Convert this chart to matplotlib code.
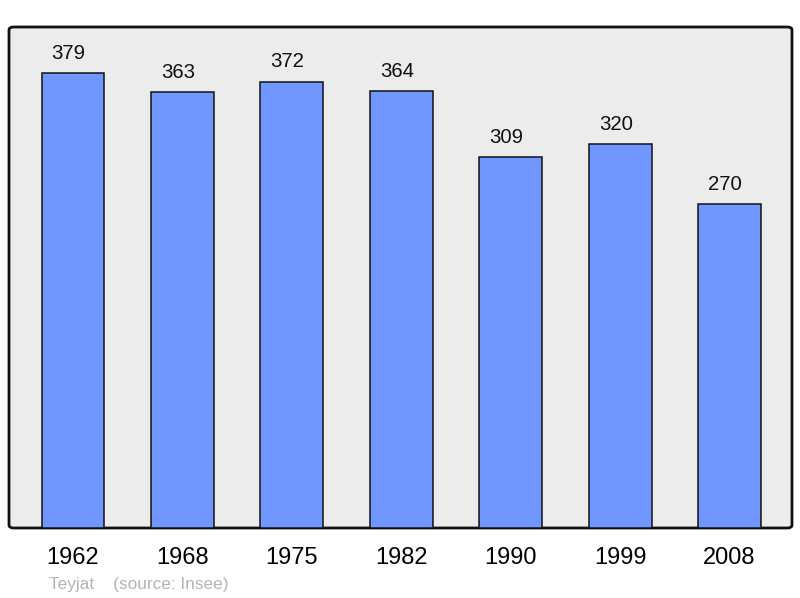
import matplotlib
matplotlib.use("Agg")
import matplotlib.pyplot as plt
from matplotlib.patches import FancyBboxPatch

years = ["1962", "1968", "1975", "1982", "1990", "1999", "2008"]
population = [379, 363, 372, 364, 309, 320, 270]

plt.rcParams["font.family"] = ["Liberation Sans", "DejaVu Sans"]

fig = plt.figure(figsize=(8, 5.98), dpi=100)
ax = fig.add_axes([9 / 800, 70 / 598, 783 / 800, 501 / 598])
ax.set_facecolor("none")

# rounded frame behind the bars
frame = FancyBboxPatch((0, 0), 1, 1, boxstyle="round,pad=0,rounding_size=0.006",
                       transform=ax.transAxes, facecolor="#ececec",
                       edgecolor="#111111", linewidth=2, clip_on=False, zorder=0)
ax.add_patch(frame)

x = list(range(len(years)))
ax.bar(x, population, width=0.575, color="#7097ff", edgecolor="#111111",
       linewidth=1.1, zorder=2)

for xi, v in zip(x, population):
    ax.text(xi - 0.04, v + 8.5, str(v), ha="center", va="bottom", fontsize=14.7,
            color="#111111")

ax.set_xlim(-0.585, 6.57)
ax.set_ylim(0, 417.5)
ax.set_yticks([])
ax.set_xticks(x)
ax.set_xticklabels(years, fontsize=17)
ax.tick_params(axis="x", length=0, pad=14)
for s in ax.spines.values():
    s.set_visible(False)

fig.text(49 / 800, 1 - 584 / 598, "Teyjat    (source: Insee)", fontsize=12.4,
         color="#b4b4b4", va="center", ha="left")

fig.savefig("out.png", dpi=100)
